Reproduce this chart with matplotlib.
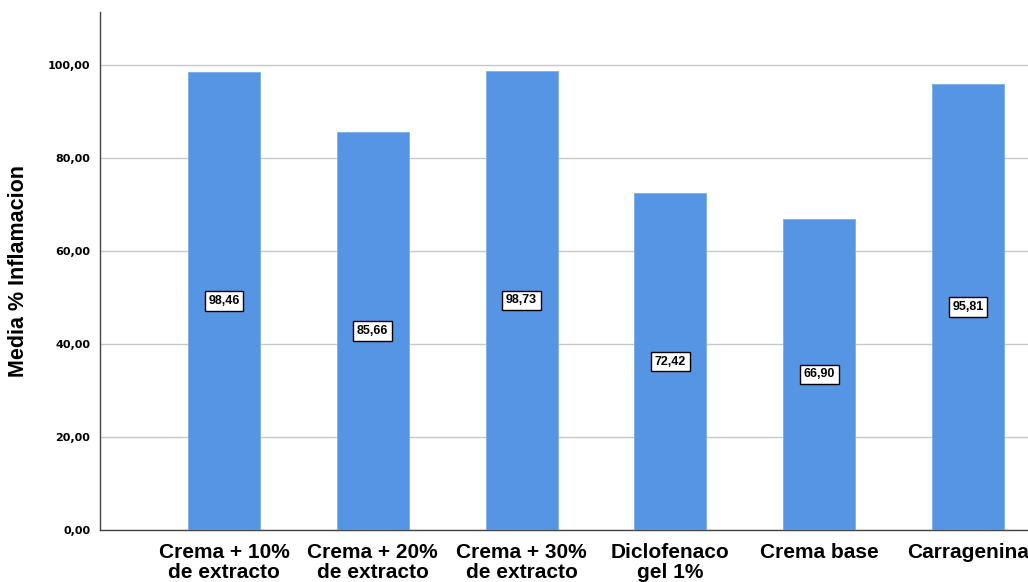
import matplotlib
matplotlib.use("Agg")
import matplotlib.pyplot as plt

categories = ["Crema + 10%\nde extracto", "Crema + 20%\nde extracto", "Crema + 30%\nde extracto",
              "Diclofenaco\ngel 1%", "Crema base", "Carragenina"]
means = [98.46, 85.66, 98.73, 72.42, 66.90, 95.81]
yticks = [0, 20, 40, 60, 80, 100]

plt.rcParams['font.family'] = ['Liberation Sans', 'DejaVu Sans']

fig = plt.figure(figsize=(10.28, 5.82), dpi=100)
ax = fig.add_axes([100/1028, 52/582, 992/1028, 518/582])

x = list(range(len(categories)))
ax.bar(x, means, width=0.484, color='#5694E4', edgecolor='#7AAEEB', linewidth=0.6, zorder=3)

def fmt(v):
    return f"{v:.2f}".replace('.', ',')

for xi, v in zip(x, means):
    ax.text(xi, v / 2, fmt(v), ha='center', va='center', fontsize=9, fontweight='bold',
            bbox=dict(boxstyle='square,pad=0.3', facecolor='white', edgecolor='black', linewidth=1.0),
            zorder=4)

ax.set_xlim(-0.833, 5.833)
ax.set_ylim(0, 111.4)
ax.set_yticks(yticks)
ax.set_yticklabels([fmt(t) for t in yticks], fontsize=8, fontweight='bold', family='DejaVu Sans')
ax.set_xticks(x)
ax.set_xticklabels(categories, fontsize=15, fontweight='bold', linespacing=1.08)
ax.tick_params(axis='both', length=0)
ax.tick_params(axis='y', pad=7)
ax.tick_params(axis='x', pad=9)

ax.yaxis.grid(True, color='#C8C8C8', linewidth=1.0, zorder=0)
ax.set_axisbelow(True)
for s in ['top', 'right']:
    ax.spines[s].set_visible(False)
ax.spines['left'].set_color('#444444')
ax.spines['bottom'].set_color('#444444')
ax.spines['left'].set_linewidth(1.0)
ax.spines['bottom'].set_linewidth(1.0)

ax.set_ylabel("Media % Inflamacion", fontsize=15.5, fontweight='bold')
ax.yaxis.set_label_coords(-71/992, 0.5)

fig.savefig("out.png", dpi=100)
